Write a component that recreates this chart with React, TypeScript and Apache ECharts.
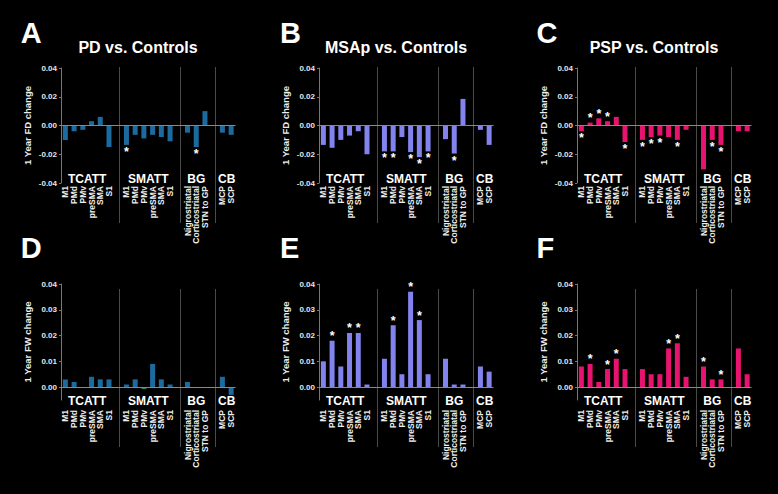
import React, { useEffect, useRef } from 'react';
import * as echarts from 'echarts';

// ---------- data ----------
const regions = ['M1', 'PMd', 'PMv', 'preSMA', 'SMA', 'S1', 'M1', 'PMd', 'PMv', 'preSMA', 'SMA', 'S1', 'Nigrostriatal', 'Corticostriatal', 'STN to GP', 'MCP', 'SCP'];
const groupNames = ['TCATT', 'SMATT', 'BG', 'CB'];
const groupSizes = [6, 6, 3, 2];

const fdTicks = [-0.04, -0.02, 0, 0.02, 0.04];
const fwTicks = [0, 0.01, 0.02, 0.03, 0.04];

// 1 Year FD change
const pdFD = [-0.010, -0.004, -0.003, 0.003, 0.006, -0.015, -0.0135, -0.0065, -0.009, -0.0065, -0.008, -0.011, -0.005, -0.015, 0.010, -0.005, -0.0065];
const pdFDSig = [6, 13];
const msaFD = [-0.0135, -0.0155, -0.010, -0.007, -0.004, -0.020, -0.018, -0.018, -0.008, -0.0185, -0.022, -0.018, -0.0095, -0.0195, 0.0185, -0.003, -0.0135];
const msaFDSig = [6, 7, 9, 10, 11, 13];
const pspFD = [-0.004, 0.002, 0.005, 0.003, 0.006, -0.0115, -0.010, -0.008, -0.007, -0.008, -0.010, -0.003, -0.0305, -0.010, -0.0135, -0.004, -0.004];
const pspFDSig = [0, 1, 2, 3, 5, 6, 7, 8, 10, 13, 14];

// 1 Year FW change
const pdFW = [0.003, 0.002, 0, 0.004, 0.003, 0.003, 0.001, 0.003, -0.0007, 0.009, 0.003, 0.001, 0.002, 0, 0, 0.004, -0.003];
const pdFWSig: number[] = [];
const msaFW = [0.010, 0.018, 0.008, 0.021, 0.021, 0.001, 0.011, 0.024, 0.005, 0.037, 0.026, 0.005, 0.011, 0.001, 0.001, 0.008, 0.006];
const msaFWSig = [1, 3, 4, 7, 9, 10];
const pspFW = [0.008, 0.009, 0.002, 0.007, 0.011, 0.007, 0.007, 0.005, 0.005, 0.015, 0.017, 0.004, 0.008, 0.003, 0.003, 0.015, 0.005];
const pspFWSig = [1, 3, 4, 9, 10, 12, 14];

const panelLetters = ['A', 'B', 'C', 'D', 'E', 'F'];
const panelTitles = ['PD vs. Controls', 'MSAp vs. Controls', 'PSP vs. Controls'];
const yNames = ['1 Year FD change', '1 Year FW change'];

// ---------- style ----------
const FONT = '"Liberation Sans", Arial, Helvetica, sans-serif';
const COLORS = ['#1d6b9e', '#8383ee', '#e6146e'];
const ODD_BAR = { panel: 3, index: 8, color: '#2a8a72' };
const GRID_LEFT = [61, 319, 577];
const GRID_W = 174.5;
const ROW_TOP = [68, 284];
const ROW_H = [115, 116];
const LETTER_X = [20.7, 280, 536.5];
const LETTER_Y = [32.5, 247.5];
const TITLE_X = [138, 396, 654];

function buildSlots() {
  const cats: string[] = [];
  const slotOf: number[] = [];
  const groupRanges: [number, number][] = [];
  const separators: number[] = [];
  let r = 0;
  groupSizes.forEach((n, g) => {
    if (g > 0) {
      separators.push(cats.length);
      cats.push('');
    }
    const start = cats.length;
    for (let i = 0; i < n; i++) {
      slotOf.push(cats.length);
      cats.push(regions[r++]);
    }
    groupRanges.push([start, cats.length - 1]);
  });
  return { cats, slotOf, groupRanges, separators };
}

export default function App() {
  const ref = useRef<HTMLDivElement>(null);

  useEffect(() => {
    if (!ref.current) return;
    const chart = echarts.init(ref.current, undefined, { renderer: 'svg' });
    const { cats, slotOf, groupRanges, separators } = buildSlots();

    const panelData = [
      [pdFD, pdFDSig], [msaFD, msaFDSig], [pspFD, pspFDSig],
      [pdFW, pdFWSig], [msaFW, msaFWSig], [pspFW, pspFWSig],
    ] as [number[], number[]][];

    const grids: any[] = [];
    const xAxes: any[] = [];
    const yAxes: any[] = [];
    const series: any[] = [];

    panelData.forEach(([vals, sig], k) => {
      const row = Math.floor(k / 3);
      const col = k % 3;
      grids.push({ left: GRID_LEFT[col], top: ROW_TOP[row], width: GRID_W, height: ROW_H[row], containLabel: false });
      xAxes.push({
        gridIndex: k,
        type: 'category',
        data: cats,
        boundaryGap: true,
        axisLine: { show: false },
        axisTick: { show: false },
        splitLine: { show: false },
        axisLabel: {
          interval: 0,
          rotate: 90,
          fontSize: 8.5,
          fontWeight: 'bold',
          fontFamily: FONT,
          color: '#eeeeee',
          margin: row === 0 ? 3 : 10,
        },
      });
      const ticks = row === 0 ? fdTicks : fwTicks;
      yAxes.push({
        gridIndex: k,
        type: 'value',
        min: row === 0 ? -0.04 : -0.005,
        max: 0.04,
        interval: row === 0 ? 0.02 : 0.005,
        axisLine: { show: true, lineStyle: { color: '#777777', width: 1 } },
        axisTick: { show: true, length: 2, customValues: ticks, lineStyle: { color: '#777777' } },
        splitLine: { show: false },
        axisLabel: {
          customValues: ticks,
          color: '#e6e6e6',
          fontSize: 8,
          fontWeight: 'bold',
          fontFamily: FONT,
          margin: 4,
          formatter: (v: number) => {
            const ok = ticks.some((t) => Math.abs(t - v) < 1e-9);
            return ok ? v.toFixed(2) : '';
          },
        },
        name: yNames[row],
        nameLocation: 'middle',
        nameGap: 29,
        nameTextStyle: { color: '#eeeeee', fontSize: 9.5, fontWeight: 'bold', fontFamily: FONT },
      });
      const data: any[] = cats.map(() => null);
      vals.forEach((v, i) => {
        const item: any = { value: v };
        if (ODD_BAR.panel === k && ODD_BAR.index === i) item.itemStyle = { color: ODD_BAR.color };
        if (sig.includes(i)) {
          item.label = {
            show: true,
            formatter: '*',
            position: v < 0 ? 'bottom' : 'top',
            distance: v < 0 ? 2.5 : 0,
            color: '#ffffff',
            fontSize: 12.5,
            lineHeight: 9,
            fontWeight: 'bold',
            fontFamily: FONT,
          };
        }
        data[slotOf[i]] = item;
      });
      series.push({
        type: 'bar',
        xAxisIndex: k,
        yAxisIndex: k,
        barWidth: 5,
        data,
        itemStyle: { color: COLORS[col] },
        markLine: {
          silent: true,
          symbol: ['none', 'none'],
          label: { show: false },
          lineStyle: { color: '#888888', width: 1, type: 'solid' },
          data: [{ yAxis: 0 }],
        },
      });
    });

    chart.setOption({
      backgroundColor: '#000000',
      animation: false,
      grid: grids,
      xAxis: xAxes,
      yAxis: yAxes,
      series,
    });

    // decorations positioned from the axes
    const graphic: any[] = [];
    panelLetters.forEach((L, k) => {
      const row = Math.floor(k / 3);
      const col = k % 3;
      graphic.push({
        type: 'text',
        x: LETTER_X[col],
        y: LETTER_Y[row],
        style: { text: L, fill: '#ffffff', font: `bold 29px ${FONT}`, textAlign: 'left', textVerticalAlign: 'middle' },
      });
    });
    panelTitles.forEach((t, col) => {
      graphic.push({
        type: 'text',
        x: TITLE_X[col],
        y: 47.5,
        style: { text: t, fill: '#ffffff', font: `bold 16px ${FONT}`, textAlign: 'center', textVerticalAlign: 'middle' },
      });
    });
    for (let k = 0; k < 6; k++) {
      const row = Math.floor(k / 3);
      const px = (i: number) => chart.convertToPixel({ xAxisIndex: k } as any, i) as unknown as number;
      const bottom = ROW_TOP[row] + ROW_H[row];
      groupRanges.forEach(([a, b], g) => {
        const cx = (px(a) + px(b)) / 2;
        graphic.push({
          type: 'text',
          x: cx,
          y: row === 0 ? bottom - 4 : bottom + 1,
          style: {
            text: groupNames[g],
            fill: '#ffffff',
            font: `bold 12px ${FONT}`,
            lineHeight: 9,
            textAlign: 'center',
            textVerticalAlign: 'middle',
          },
        });
      });
      separators.forEach((s) => {
        const sx = Math.round(px(s) + 1) + 0.5;
        graphic.push({
          type: 'line',
          shape: { x1: sx, y1: row === 0 ? 67 : 289, x2: sx, y2: row === 0 ? 223 : 447 },
          style: { stroke: '#4a4a4a', lineWidth: 1 },
          silent: true,
        });
      });
    }
    chart.setOption({ graphic });

    return () => chart.dispose();
  }, []);

  return (
    <div
      ref={ref}
      style={{ position: 'absolute', left: 0, top: 0, width: 778, height: 494, background: '#000' }}
    />
  );
}
